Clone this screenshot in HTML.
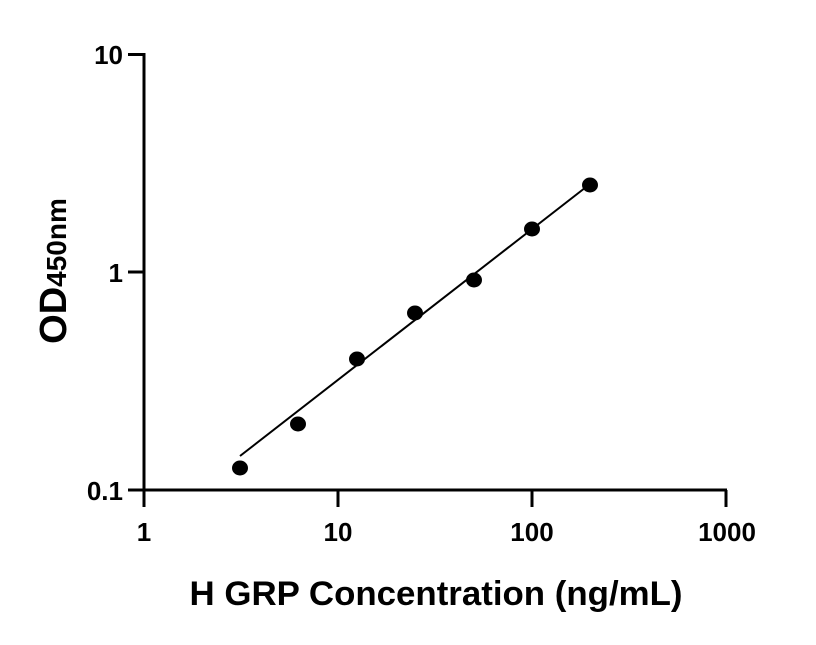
<!DOCTYPE html>
<html><head><style>body{margin:0;background:#fff}</style></head><body>
<svg width="816" height="640" xmlns="http://www.w3.org/2000/svg" font-family="'Liberation Sans', sans-serif" font-weight="bold">
<rect width="816" height="640" fill="#fff"/>
<g stroke="#000" stroke-width="3" fill="none">
<path d="M144,53 V491 M142.5,490 H727"/>
<path d="M128,54.5 H145 M128,272 H145 M128,490 H145"/>
<path d="M144,490 V507 M338,490 V507 M532,490 V507 M726,490 V507"/>
</g>
<line x1="240" y1="456" x2="590" y2="184" stroke="#000" stroke-width="2"/>
<g fill="#000">
<ellipse cx="240" cy="468" rx="8" ry="7.5"/>
<ellipse cx="298" cy="424" rx="8" ry="7.5"/>
<ellipse cx="357" cy="359" rx="8" ry="7.5"/>
<ellipse cx="415" cy="313" rx="8" ry="7.5"/>
<ellipse cx="474" cy="280" rx="8" ry="7.5"/>
<ellipse cx="532" cy="229" rx="8" ry="7.5"/>
<ellipse cx="590" cy="185" rx="8" ry="7.5"/>
</g>
<g font-size="26" text-anchor="end">
<text x="123" y="64">10</text>
<text x="123" y="282">1</text>
<text x="123" y="500">0.1</text>
</g>
<g font-size="26" text-anchor="middle">
<text x="144" y="541">1</text>
<text x="338" y="541">10</text>
<text x="532" y="541">100</text>
<text x="727" y="541">1000</text>
</g>
<text x="436" y="605" font-size="34" text-anchor="middle" textLength="493" lengthAdjust="spacingAndGlyphs">H GRP Concentration (ng/mL)</text>
<text transform="translate(66,271) rotate(-90)" text-anchor="middle"><tspan font-size="38">OD</tspan><tspan font-size="28">450nm</tspan></text>
</svg>
</body></html>
